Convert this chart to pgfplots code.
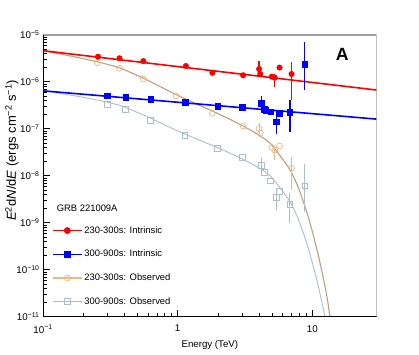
\documentclass[border=0pt]{standalone}
\usepackage{fontspec}
\setmainfont{Liberation Sans}
\usepackage{pgfplots}
\usepackage{pgfplotstable}
\pgfplotsset{compat=1.18}
\definecolor{obsO}{RGB}{236,184,128}
\definecolor{curO}{RGB}{196,158,122}
\definecolor{obsG}{RGB}{172,190,204}
\definecolor{curG}{RGB}{170,190,204}
\definecolor{cRed}{RGB}{255,0,0}
\definecolor{cBlue}{RGB}{0,0,255}

\pgfplotstableread{
E F
0.256 3.40e-6
0.37 3.15e-6
0.556 2.75e-6
1.15 2.16e-6
1.81 1.55e-6
3.06 1.37e-6
4.02 1.86e-6
4.10 1.46e-6
5.0 1.28e-6
5.25 1.22e-6
5.7 2.0e-6
7.0 1.46e-6
}\redI

\pgfplotstableread{
E F
0.30 4.97e-7
0.41 4.66e-7
0.63 4.23e-7
1.14 3.65e-7
1.98 3.04e-7
3.02 2.85e-7
4.18 3.47e-7
4.38 2.59e-7
4.48 2.50e-7
4.88 2.30e-7
5.40 1.41e-7
5.68 2.13e-7
6.80 2.23e-7
8.77 2.38e-6
}\blueI

\pgfplotstableread{
E F
0.253 2.54e-6
0.37 1.93e-6
0.556 1.14e-6
0.97 4.97e-7
1.81 2.13e-7
3.06 1.14e-7
4.02 1.02e-7
4.10 8.0e-8
5.0 3.98e-8
5.25 3.52e-8
5.7 4.28e-8
7.0 1.44e-8
}\redO

\pgfplotstableread{
E F
0.30 3.36e-7
0.41 2.62e-7
0.63 1.53e-7
1.13 7.1e-8
1.98 3.83e-8
3.02 2.46e-8
4.18 1.69e-8
4.38 1.16e-8
4.88 7.8e-9
5.68 4.57e-9
5.40 3.47e-9
6.80 2.5e-9
8.77 6.07e-9
}\blueO

\begin{document}
\begin{tikzpicture}
\begin{axis}[
  at={(43pt,37.3pt)}, anchor=south west,
  scale only axis, width=333.7pt, height=282pt,
  xmode=log, ymode=log, log basis x=10, log basis y=10,
  xmin=0.1, xmax=30, ymin=1e-11, ymax=1e-5,
  axis line style={draw=none},
  unbounded coords=jump,
  tick align=inside, xtick pos=bottom, ytick pos=left,
  major tick length=7pt, minor tick length=4pt,
  tick style={black, line width=0.6pt},
  xticklabel={\pgfmathtruncatemacro\ee{round(\tick)}\ifnum\ee<0 10\textsuperscript{−\number-\ee}\else\ifnum\ee=0 1\else 10\fi\fi},
  yticklabel={\pgfmathtruncatemacro\ee{round(\tick)}10\textsuperscript{−\number-\ee}},
  ticklabel style={font=\fontsize{9.8}{11}\selectfont},
  x tick label style={yshift=-5pt},
  xlabel={Energy (TeV)},
  xlabel style={at={(axis description cs:0.5,-0.1)}, anchor=center, font=\fontsize{9.7}{11}\selectfont},
  ylabel={\textit{E}\textsuperscript{2}d\textit{N}/d\textit{E} (ergs cm\textsuperscript{−2} s\textsuperscript{−1})},
  ylabel style={at={(axis description cs:-0.093,0.59)}, anchor=center, font=\fontsize{13}{15}\selectfont},
  legend style={at={(rel axis cs:0.027,0.328)}, anchor=north west, draw=none, fill=none,
    font=\fontsize{9.4}{11}\selectfont, row sep=11.4pt, inner sep=0pt},
  legend cell align=left,
  legend image code/.code={\draw[mark repeat=2,mark phase=2,#1] plot coordinates {(0pt,0pt) (14.5pt,0pt) (29pt,0pt)};},
]
% observed model curves
\addplot[curO, line width=1.1pt, smooth, tension=0.4, forget plot] coordinates {
(0.1,4.567e-6) (0.1586,3.543e-6) (0.2561,2.628e-6) (0.3728,1.959e-6) (0.5621,1.170e-6) (0.7390,7.91e-7) (0.9881,5.215e-7) (1.299,3.633e-7) (1.737,2.504e-7) (2.323,1.699e-7) (3.053,1.144e-7) (3.879,7.745e-8) (4.844,4.953e-8) (5.748,2.674e-8) (6.819,1.335e-8) (7.818,5.822e-9) (8.966,1.892e-9) (9.932,6.862e-10) (11.006,2.148e-10) (11.988,7.105e-11) (12.834,2.606e-11) (13.51,9.61e-12) (14.22,3.215e-12)};
\addplot[curG, line width=0.9pt, smooth, tension=0.4, forget plot] coordinates {
(0.1,6.435e-7) (0.1586,5.215e-7) (0.2561,4.047e-7) (0.3728,3.127e-7) (0.5621,1.941e-7) (0.7390,1.347e-7) (0.9881,9.13e-8) (1.299,6.523e-8) (1.737,4.619e-8) (2.323,3.224e-8) (3.053,2.226e-8) (3.879,1.543e-8) (4.844,1.007e-8) (5.748,5.528e-9) (6.819,2.804e-9) (7.818,1.239e-9) (8.966,4.079e-10) (9.932,1.494e-10) (11.006,4.72e-11) (11.988,1.574e-11) (12.834,5.81e-12)};
% observed error bars
\addplot[draw=obsO, line width=1.2pt, forget plot] coordinates {
(4.02,6.8e-8) (4.02,1.35e-7) (4.02,nan)
(5.25,2.16e-8) (5.25,4.22e-8) (5.25,nan)
(7.0,4.95e-9) (7.0,2.53e-8)};
\addplot[draw=obsG, line width=1.2pt, forget plot] coordinates {
(4.18,1.29e-8) (4.18,2.46e-8) (4.18,nan)
(5.40,1.86e-9) (5.40,5.5e-9) (5.40,nan)
(6.80,9.8e-10) (6.80,4.35e-9) (6.80,nan)
(8.77,1.71e-9) (8.77,1.78e-8)};
% observed points
\addplot[only marks, color=obsO, mark=o, mark size=3pt, mark options={line width=0.7pt, fill=white}, forget plot]
  table[x=E, y=F] {\redO};
\addplot[only marks, color=obsG, mark=square, mark size=2.9pt, mark options={line width=0.7pt, fill=white}, forget plot]
  table[x=E, y=F] {\blueO};
% intrinsic model lines
\addplot[draw=cRed, line width=1.6pt, forget plot] coordinates {(0.1,4.57e-6) (30,6.65e-7)};
\addplot[draw=cBlue, line width=1.6pt, forget plot] coordinates {(0.1,6.4e-7) (30,1.6e-7)};
% intrinsic error bars
\addplot[draw=cRed, line width=1.4pt, forget plot] coordinates {
(4.02,1.36e-6) (4.02,2.75e-6) (4.02,nan)
(5.25,7.8e-7) (5.25,1.47e-6) (5.25,nan)
(5.7,1.8e-6) (5.7,2.2e-6) (5.7,nan)
(7.0,4.1e-7) (7.0,2.6e-6)};
\addplot[draw=cBlue, line width=1.4pt, forget plot] coordinates {
(4.18,2.6e-7) (4.18,4.97e-7) (4.18,nan)
(4.88,2.05e-7) (4.88,2.55e-7) (4.88,nan)
(5.40,7.7e-8) (5.40,2.5e-7) (5.40,nan)
(6.80,8.6e-8) (6.80,4.08e-7) (6.80,nan)
(8.77,6.65e-7) (8.77,7.0e-6)};
% intrinsic points
\addplot[only marks, color=cRed, mark=*, mark size=2.8pt, forget plot]
  table[x=E, y=F] {\redI};
\addplot[only marks, color=cBlue, mark=square*, mark size=2.7pt, forget plot]
  table[x=E, y=F] {\blueI};
% legend
\addlegendimage{color=cRed, line width=1.2pt, mark=*, mark size=2.8pt}
\addlegendentry{230-300s: Intrinsic}
\addlegendimage{color=cBlue, line width=1.2pt, mark=square*, mark size=2.7pt}
\addlegendentry{300-900s: Intrinsic}
\addlegendimage{color=obsO, line width=1.2pt, mark=o, mark size=3pt, mark options={line width=0.7pt, fill=white}}
\addlegendentry{230-300s: Observed}
\addlegendimage{color=obsG, line width=1.2pt, mark=square, mark size=2.9pt, mark options={line width=0.7pt, fill=white}}
\addlegendentry{300-900s: Observed}
% frame
\draw[gray!75, line width=1.6pt] (rel axis cs:0,1) -- (rel axis cs:1,1) -- (rel axis cs:1,0);
\draw[black, line width=0.8pt] (rel axis cs:0,1) -- (rel axis cs:0,0) -- (rel axis cs:1,0);
\node[anchor=west, font=\fontsize{9.4}{11}\selectfont] at (rel axis cs:0.031,0.384) {GRB 221009A};
\node[font=\fontsize{17.7}{20}\selectfont\bfseries] at (rel axis cs:0.897,0.929) {A};
\end{axis}
\pgfresetboundingbox
\path (0,0) rectangle (419pt,354pt);
\end{tikzpicture}
\end{document}
